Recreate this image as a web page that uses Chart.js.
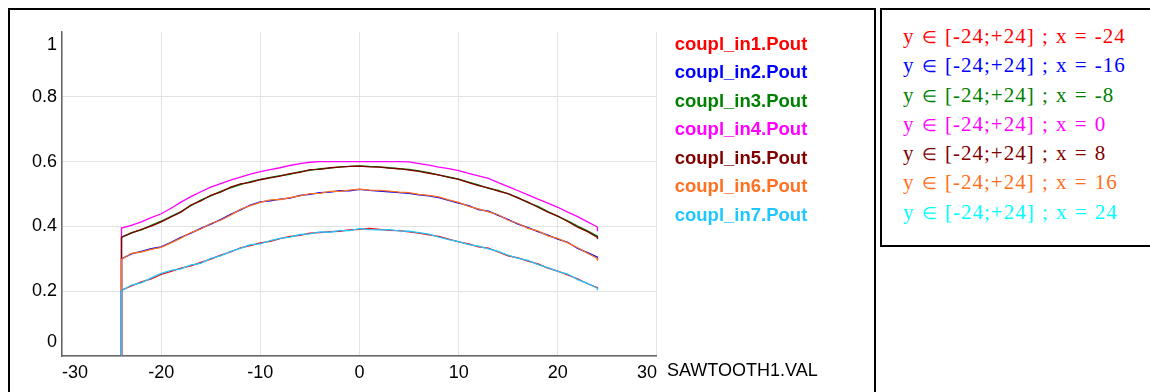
<!DOCTYPE html>
<html>
<head>
<meta charset="utf-8">
<script src="https://cdn.jsdelivr.net/npm/chart.js@4.4.1/dist/chart.umd.min.js"></script>
<style>
  body { margin: 0; width: 1150px; height: 392px; overflow: hidden; background: #fff; position: relative; }
  #panel { position: absolute; left: 8px; top: 8px; width: 864px; height: 420px; border: 2px solid #000; }
  #chart { position: absolute; left: 0; top: 0; }
  #note {
    position: absolute; left: 880px; top: 8px; width: 300px; height: 239px; border: 2px solid #000;
    font-family: "Liberation Serif", "Times New Roman", serif; font-size: 21px; letter-spacing: 1px; word-spacing: 1px;
    padding: 12px 0 0 21px; box-sizing: border-box; white-space: pre;
  }
  #note div { height: 29.3px; line-height: 29.3px; }
  #note .el { font-size: 17px; line-height: 1; }
</style>
</head>
<body>
<div id="panel"></div>
<canvas id="chart" width="875" height="392"></canvas>
<div id="note"></div>
<script>
const xValues = [-24, -24, -23, -22, -21, -20, -19, -18, -17, -16, -15, -14, -13, -12, -11, -10, -9, -8, -7, -6, -5,
  -4, -3, -2, -1, 0, 1, 2, 3, 4, 5, 6, 7, 8, 9, 10, 11, 12, 13, 14, 15, 16, 17, 18, 19, 20, 21, 22, 23, 24, 24];

const in1 = [0, 0.203, 0.216, 0.229, 0.238, 0.252, 0.261, 0.271, 0.278, 0.289, 0.299, 0.311, 0.321, 0.334, 0.341, 0.349,
  0.354, 0.362, 0.369, 0.372, 0.379, 0.381, 0.384, 0.385, 0.389, 0.391, 0.394, 0.391, 0.388, 0.387, 0.383, 0.379, 0.374,
  0.369, 0.361, 0.352, 0.346, 0.337, 0.333, 0.321, 0.309, 0.303, 0.293, 0.284, 0.271, 0.262, 0.250, 0.238, 0.223, 0.211, 0.206];
const in2 = [0, 0.300, 0.315, 0.323, 0.331, 0.337, 0.351, 0.366, 0.379, 0.394, 0.407, 0.421, 0.437, 0.451, 0.466, 0.476,
  0.479, 0.484, 0.487, 0.496, 0.499, 0.504, 0.506, 0.510, 0.510, 0.514, 0.511, 0.509, 0.507, 0.504, 0.502, 0.497, 0.494,
  0.489, 0.480, 0.472, 0.464, 0.452, 0.447, 0.434, 0.421, 0.407, 0.396, 0.384, 0.373, 0.361, 0.351, 0.332, 0.319, 0.305, 0.296];
const in3 = [0, 0.366, 0.381, 0.389, 0.403, 0.416, 0.431, 0.446, 0.464, 0.481, 0.494, 0.508, 0.519, 0.529, 0.538, 0.545,
  0.551, 0.557, 0.561, 0.569, 0.573, 0.578, 0.580, 0.584, 0.585, 0.587, 0.585, 0.584, 0.581, 0.578, 0.576, 0.571, 0.566,
  0.558, 0.553, 0.546, 0.537, 0.528, 0.517, 0.511, 0.500, 0.489, 0.473, 0.462, 0.446, 0.431, 0.417, 0.401, 0.386, 0.370, 0.364];
const in4 = [0, 0.395, 0.403, 0.414, 0.427, 0.439, 0.456, 0.475, 0.492, 0.507, 0.521, 0.532, 0.543, 0.552, 0.561, 0.569,
  0.575, 0.581, 0.588, 0.594, 0.598, 0.600, 0.600, 0.600, 0.600, 0.600, 0.600, 0.600, 0.600, 0.600, 0.599, 0.594, 0.589,
  0.583, 0.578, 0.572, 0.564, 0.556, 0.548, 0.535, 0.523, 0.510, 0.497, 0.484, 0.472, 0.459, 0.444, 0.430, 0.414, 0.398, 0.385];
const in5 = [0, 0.367, 0.379, 0.391, 0.401, 0.414, 0.429, 0.444, 0.466, 0.479, 0.496, 0.506, 0.521, 0.531, 0.536, 0.544,
  0.550, 0.555, 0.563, 0.567, 0.575, 0.576, 0.581, 0.583, 0.585, 0.586, 0.584, 0.583, 0.580, 0.578, 0.574, 0.570, 0.564,
  0.559, 0.551, 0.545, 0.535, 0.526, 0.519, 0.509, 0.501, 0.487, 0.475, 0.459, 0.444, 0.432, 0.415, 0.398, 0.384, 0.366, 0.361];
const in6 = [0, 0.298, 0.317, 0.321, 0.329, 0.335, 0.349, 0.364, 0.381, 0.392, 0.409, 0.419, 0.435, 0.453, 0.464, 0.474,
  0.482, 0.483, 0.489, 0.494, 0.501, 0.502, 0.508, 0.508, 0.512, 0.515, 0.512, 0.511, 0.509, 0.506, 0.504, 0.499, 0.496,
  0.491, 0.482, 0.474, 0.462, 0.454, 0.445, 0.436, 0.419, 0.409, 0.394, 0.386, 0.371, 0.363, 0.349, 0.334, 0.317, 0.301, 0.294];
const in7 = [0, 0.201, 0.219, 0.226, 0.241, 0.255, 0.264, 0.269, 0.281, 0.286, 0.301, 0.309, 0.323, 0.332, 0.344, 0.346,
  0.356, 0.363, 0.367, 0.375, 0.377, 0.383, 0.382, 0.387, 0.387, 0.393, 0.390, 0.389, 0.390, 0.386, 0.385, 0.381, 0.376,
  0.367, 0.359, 0.353, 0.344, 0.339, 0.331, 0.323, 0.311, 0.301, 0.295, 0.282, 0.273, 0.261, 0.253, 0.236, 0.224, 0.209, 0.203];

const seriesNames = ['coupl_in1.Pout', 'coupl_in2.Pout', 'coupl_in3.Pout', 'coupl_in4.Pout',
  'coupl_in5.Pout', 'coupl_in6.Pout', 'coupl_in7.Pout'];
const seriesValues = [in1, in2, in3, in4, in5, in6, in7];
const seriesColors = ['#ff0000', '#0000ff', '#008000', '#ff00ff', '#800000', '#ff7020', '#1ec8ff'];

const xTickLabels = ['-30', '-20', '-10', '0', '10', '20', '30'];
const yTickLabels = ['0', '0.2', '0.4', '0.6', '0.8', '1'];
const xAxisName = 'SAWTOOTH1.VAL';

const noteXs = ['-24', '-16', '-8', '0', '8', '16', '24'];
const noteColors = ['#ff0000', '#0000ff', '#008000', '#ff00ff', '#800000', '#ff7020', '#00ffff'];

const note = document.getElementById('note');
noteXs.forEach((x, i) => {
  const d = document.createElement('div');
  d.style.color = noteColors[i];
  d.append('y ');
  const el = document.createElement('span');
  el.className = 'el';
  el.textContent = '\u2208';
  d.append(el, ' [-24;+24] ; x = ' + x);
  note.appendChild(d);
});

const family = '"Liberation Sans", Arial, sans-serif';
const axisFont = { family, size: 18 };

// axis name sits to the right of the last x tick, on the tick row
const axisNamePlugin = {
  id: 'axisName',
  afterDraw(chart) {
    const sx = chart.scales.x;
    const c = chart.ctx;
    c.save();
    c.font = `${axisFont.size}px ${family}`;
    c.fillStyle = '#000';
    c.textAlign = 'left';
    c.textBaseline = 'middle';
    c.fillText(xAxisName, sx.right + 10, sx.top + 15);
    c.restore();
  }
};

const datasets = seriesNames.map((name, i) => ({
  label: name,
  data: xValues.map((x, j) => ({ x, y: seriesValues[i][j] })),
  borderColor: seriesColors[i],
  borderWidth: 1.3,
  pointRadius: 0,
  showLine: true,
  fill: false,
  order: seriesNames.length - i
}));

new Chart(document.getElementById('chart'), {
  type: 'scatter',
  data: { datasets },
  options: {
    responsive: false,
    animation: false,
    devicePixelRatio: 1,
    layout: { padding: { top: 31, left: 0, right: 57.7, bottom: 0 } },
    plugins: {
      tooltip: { enabled: false },
      legend: {
        position: 'right',
        align: 'start',
        labels: {
          boxWidth: 10,
          boxHeight: 30,
          padding: -1.5,
          font: { family, size: 18.5, weight: 'bold' },
          generateLabels: (ch) => ch.data.datasets.map((d, i) => ({
            text: d.label, fontColor: d.borderColor, fillStyle: 'rgba(0,0,0,0)',
            strokeStyle: 'rgba(0,0,0,0)', lineWidth: 0, hidden: false, datasetIndex: i
          }))
        }
      }
    },
    scales: {
      x: {
        type: 'linear', min: -30, max: 30,
        ticks: { stepSize: 10, align: 'inner', padding: 6, color: '#000', font: axisFont,
          callback: (v, i) => xTickLabels[i] },
        grid: { color: '#e3e3e3', drawTicks: false },
        border: { color: '#666', width: 1.5 },
        afterFit: (s) => { s.height = 36; }
      },
      y: {
        min: 0, max: 1,
        ticks: { stepSize: 0.2, padding: 5, color: '#000', font: { ...axisFont, lineHeight: '27px' },
          callback: (v, i, t) => {
            const lab = yTickLabels[i];
            if (i === 0) return [lab, ''];
            if (i === t.length - 1) return ['', lab];
            return lab;
          } },
        grid: { color: (c) => (c.tick && c.tick.value === 1 ? 'rgba(0,0,0,0)' : '#e3e3e3'), drawTicks: false },
        border: { color: '#666', width: 1.5 },
        afterFit: (s) => { s.width = 62; }
      }
    }
  },
  plugins: [axisNamePlugin]
});
</script>
</body>
</html>
